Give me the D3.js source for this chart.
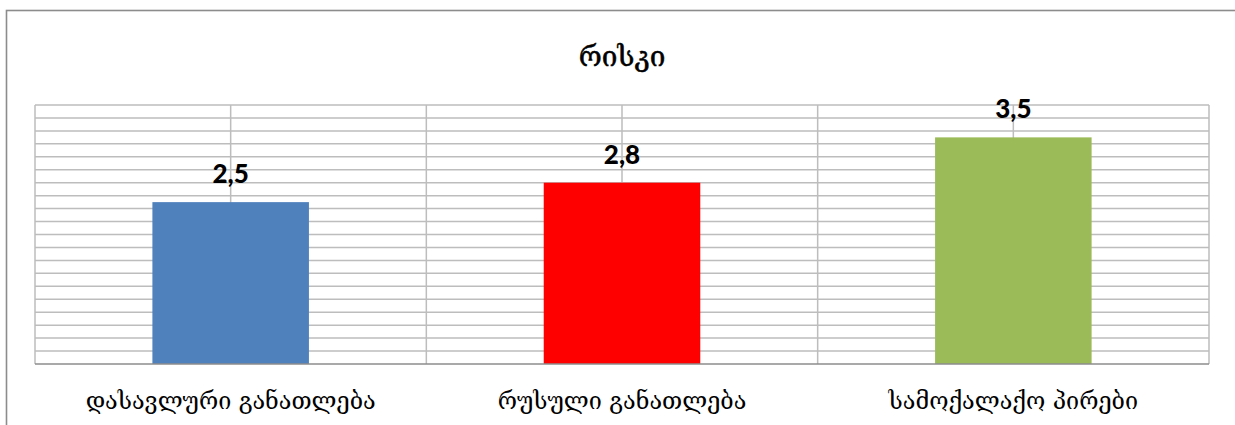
<!DOCTYPE html>
<html>
<head>
<meta charset="utf-8">
<script src="https://cdn.jsdelivr.net/npm/d3@7"></script>
<style>
  html, body { margin: 0; padding: 0; background: #fff; }
  svg { display: block; }
</style>
</head>
<body>
<svg id="chart" width="1235" height="425"></svg>
<script>
// Chart data
const title = "რისკი";
const categories = ["დასავლური განათლება", "რუსული განათლება", "სამოქალაქო პირები"];
const values = [2.5, 2.8, 3.5];
const valueLabels = ["2,5", "2,8", "3,5"];
const barColors = ["#4f81bd", "#ff0000", "#9bbb59"];
const yMax = 4;
const yStep = 0.2;

const svg = d3.select("#chart");
const W = 1235, H = 425;
const plot = { left: 35, top: 105, right: 1209, bottom: 364 };

// Outer chart frame (runs off the right and bottom edges)
svg.append("rect")
  .attr("x", 6.5).attr("y", 10.5)
  .attr("width", W).attr("height", H)
  .attr("fill", "#fff")
  .attr("stroke", "#8c8c8c").attr("stroke-width", 1.6);

const x = d3.scaleBand()
  .domain(categories)
  .range([plot.left, plot.right])
  .paddingInner(0.6).paddingOuter(0.3);

const y = d3.scaleLinear()
  .domain([0, yMax])
  .range([plot.bottom, plot.top]);

const grid = svg.append("g");

// Horizontal gridlines
const yTicks = d3.range(0, yMax + yStep / 2, yStep);
grid.selectAll("line.h")
  .data(yTicks.filter(v => v > 0))
  .join("line")
  .attr("class", "h")
  .attr("x1", plot.left).attr("x2", plot.right)
  .attr("y1", d => y(d)).attr("y2", d => y(d))
  .attr("stroke", "#bdbdbd").attr("stroke-width", 1.5);

// Vertical gridlines at category boundaries and centres
const step = (plot.right - plot.left) / categories.length;
const vPos = d3.range(0, categories.length * 2 + 1).map(i => plot.left + i * step / 2);
grid.selectAll("line.v")
  .data(vPos)
  .join("line")
  .attr("class", "v")
  .attr("x1", d => d).attr("x2", d => d)
  .attr("y1", plot.top).attr("y2", plot.bottom)
  .attr("stroke", "#bdbdbd").attr("stroke-width", 1.5);

// Bars
svg.append("g").selectAll("rect")
  .data(values)
  .join("rect")
  .attr("x", (d, i) => x(categories[i]))
  .attr("y", d => y(d))
  .attr("width", x.bandwidth())
  .attr("height", d => y(0) - y(d))
  .attr("fill", (d, i) => barColors[i]);

// Category axis line
svg.append("line")
  .attr("x1", plot.left).attr("x2", plot.right)
  .attr("y1", plot.bottom).attr("y2", plot.bottom)
  .attr("stroke", "#8c8c8c").attr("stroke-width", 1.6);

// Value labels
svg.append("g").selectAll("text")
  .data(values)
  .join("text")
  .attr("x", (d, i) => x(categories[i]) + x.bandwidth() / 2)
  .attr("y", d => y(d) - 19)
  .attr("text-anchor", "middle")
  .attr("font-family", "Lato, 'Open Sans', sans-serif")
  .attr("font-weight", 900)
  .attr("font-size", 26)
  .attr("fill", "#000")
  .text((d, i) => valueLabels[i]);

// Category labels
svg.append("g").selectAll("text")
  .data(categories)
  .join("text")
  .attr("x", d => x(d) + x.bandwidth() / 2)
  .attr("y", 409)
  .attr("text-anchor", "middle")
  .attr("font-family", "'DejaVu Serif', 'DejaVu Sans', serif")
  .attr("font-size", 23.4)
  .attr("fill", "#000")
  .text(d => d);

// Title
svg.append("text")
  .attr("x", (plot.left + plot.right) / 2)
  .attr("y", 66)
  .attr("text-anchor", "middle")
  .attr("font-family", "'DejaVu Serif', 'DejaVu Sans', serif")
  .attr("font-size", 28)
  .attr("fill", "#000")
  .attr("stroke", "#000").attr("stroke-width", 0.5)
  .text(title);
</script>
</body>
</html>
